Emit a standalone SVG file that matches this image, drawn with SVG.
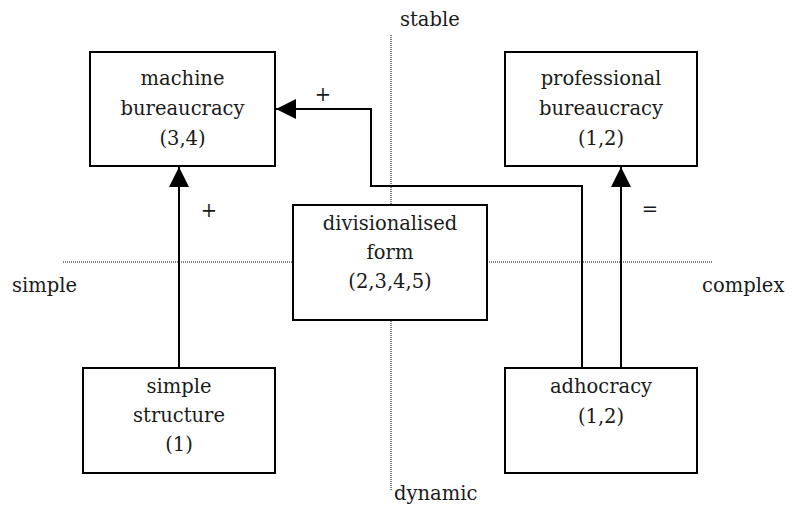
<svg xmlns="http://www.w3.org/2000/svg" width="792" height="512" viewBox="0 0 792 512">
<style>
text{font-family:"DejaVu Serif",serif;font-size:19.5px;fill:#1a1a1a}
.c{text-anchor:middle}
.box{fill:#fff;stroke:#000;stroke-width:2}
.dot{fill:none;stroke:#000;stroke-width:1;stroke-dasharray:1 1}
.con{fill:none;stroke:#000;stroke-width:2}
</style>
<defs>
<marker id="ah" markerUnits="userSpaceOnUse" markerWidth="20" markerHeight="20" viewBox="0 0 20 20" refX="20" refY="10" orient="auto">
<path d="M0,0 L20,10 L0,20 Z" fill="#000"/>
</marker>
</defs>
<g id="axes">
<line class="dot" x1="391" y1="35" x2="391" y2="490"/>
<line class="dot" x1="63" y1="262" x2="713" y2="262"/>
<text x="400" y="26">stable</text>
<text x="394" y="500">dynamic</text>
<text x="12" y="292">simple</text>
<text x="702" y="292">complex</text>
</g>
<g id="connectors">
<path class="con" d="M179,368 V167" marker-end="url(#ah)"/>
<path class="con" d="M582,368 V186 H371 V109 H276" marker-end="url(#ah)"/>
<path class="con" d="M621,368 V167" marker-end="url(#ah)"/>
<text class="c" x="323" y="101">+</text>
<text class="c" x="209" y="217">+</text>
<text class="c" x="650" y="216">=</text>
</g>
<g id="machine">
<rect class="box" x="90" y="52" width="185" height="114"/>
<text class="c" x="182.5" y="85">machine</text>
<text class="c" x="182.5" y="115">bureaucracy</text>
<text class="c" x="182.5" y="145">(3,4)</text>
</g>
<g id="professional">
<rect class="box" x="505" y="52" width="192" height="114"/>
<text class="c" x="601" y="85">professional</text>
<text class="c" x="601" y="115">bureaucracy</text>
<text class="c" x="601" y="145">(1,2)</text>
</g>
<g id="divisionalised">
<rect class="box" x="293" y="205" width="194" height="115"/>
<text class="c" x="390" y="230">divisionalised</text>
<text class="c" x="390" y="259">form</text>
<text class="c" x="390" y="288">(2,3,4,5)</text>
</g>
<g id="simplestructure">
<rect class="box" x="83" y="368" width="192" height="105"/>
<text class="c" x="179" y="393">simple</text>
<text class="c" x="179" y="422">structure</text>
<text class="c" x="179" y="451">(1)</text>
</g>
<g id="adhocracy">
<rect class="box" x="505" y="368" width="192" height="105"/>
<text class="c" x="601" y="393">adhocracy</text>
<text class="c" x="601" y="423">(1,2)</text>
</g>
</svg>
